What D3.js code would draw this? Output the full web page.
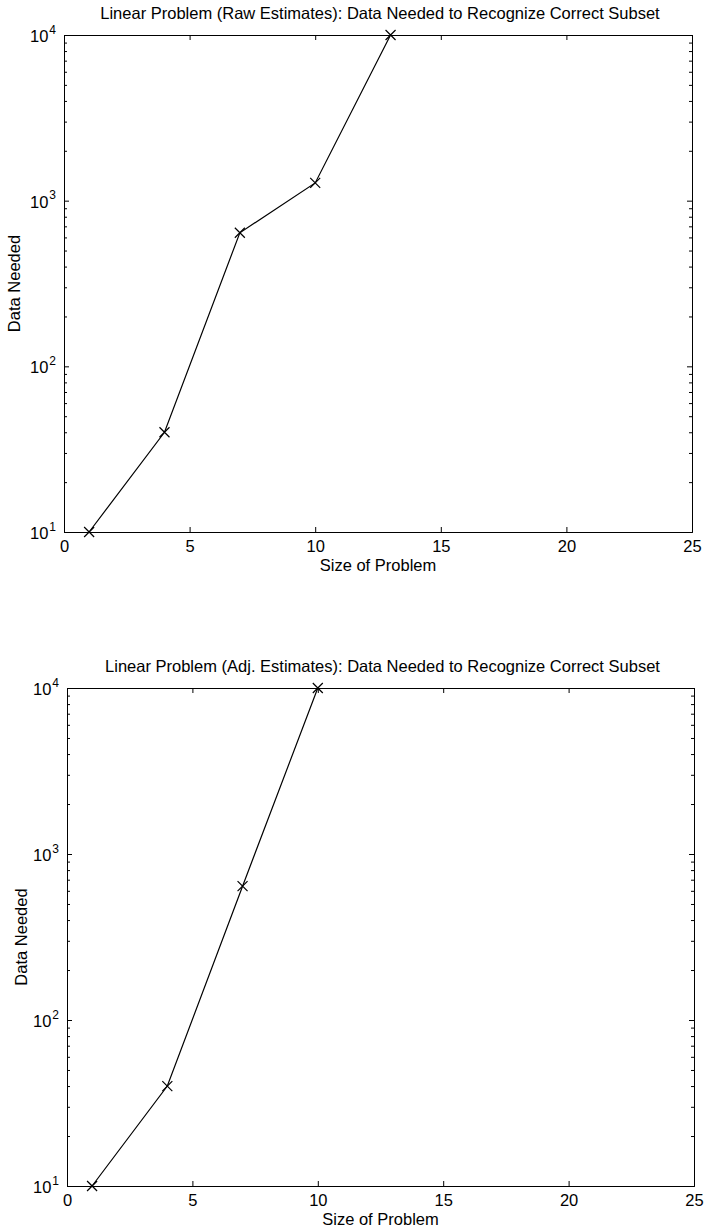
<!DOCTYPE html>
<html>
<head>
<meta charset="utf-8">
<script src="https://cdn.jsdelivr.net/npm/d3@7"></script>
<style>
  html, body { margin: 0; padding: 0; background: #fff; }
  svg text { font-family: "Liberation Sans", Arial, Helvetica, sans-serif; fill: #000; }
</style>
</head>
<body>
<svg id="fig" width="704" height="1230"></svg>
<script>
// Problem size vs. number of data points needed (log scale)
const sizesRaw = [1, 4, 7, 10, 13];
const neededRaw = [10, 40, 640, 1280, 10000];
const sizesAdj = [1, 4, 7, 10];
const neededAdj = [10, 40, 640, 10000];

const titles = [
  "Linear Problem (Raw Estimates): Data Needed to Recognize Correct Subset",
  "Linear Problem (Adj. Estimates): Data Needed to Recognize Correct Subset"
];
const xTicks = [0, 5, 10, 15, 20, 25];
const yMajor = [10, 100, 1000, 10000];
const xLabel = "Size of Problem";
const yLabel = "Data Needed";

const FS = 16.5;
const svg = d3.select("#fig");

// Minor ticks 2..9 in each decade
const yAll = [];
yMajor.forEach((m, i) => {
  yAll.push(m);
  if (i < yMajor.length - 1) for (let k = 2; k <= 9; k++) yAll.push(m * k);
});

function panel(box, title, xs, ys) {
  const x = d3.scaleLinear().domain([0, 25]).range([box.left, box.right]);
  const y = d3.scaleLog().domain([10, 10000]).range([box.bottom, box.top]);
  const g = svg.append("g");

  // Bottom axis with labels, ticks pointing inward
  const gx = g.append("g").attr("transform", `translate(0,${box.bottom})`)
    .call(d3.axisBottom(x).tickValues(xTicks).tickSize(-5).tickPadding(8).tickFormat(d3.format("d")));
  // Top axis mirrored, no labels
  const gxt = g.append("g").attr("transform", `translate(0,${box.top})`)
    .call(d3.axisTop(x).tickValues(xTicks).tickSize(-5).tickFormat(""));

  const isMajor = d => yMajor.includes(d);
  const gy = g.append("g").attr("transform", `translate(${box.left},0)`)
    .call(d3.axisLeft(y).tickValues(yAll).tickSize(-5).tickPadding(8).tickFormat(() => ""));
  const gyr = g.append("g").attr("transform", `translate(${box.right},0)`)
    .call(d3.axisRight(y).tickValues(yAll).tickSize(-5).tickFormat(""));

  [gy, gyr].forEach(a => {
    a.selectAll(".tick line").attr("x2", function(d) {
      const v = +d3.select(this).attr("x2");
      return isMajor(d) ? v : v * 0.6;
    });
  });

  // Power-of-ten labels with superscript exponent
  gy.selectAll(".tick").filter(d => isMajor(d)).select("text")
    .each(function(d) {
      const t = d3.select(this);
      t.text(null).attr("dy", "0.4em");
      t.append("tspan").text("10");
      t.append("tspan").attr("font-size", 12).attr("dy", "-0.7em").attr("dx", 1)
        .text(Math.round(Math.log10(d)));
    });

  [gx, gxt, gy, gyr].forEach(a => {
    a.select(".domain").attr("stroke", "#000").attr("stroke-width", 1);
    a.selectAll(".tick line").attr("stroke", "#000").attr("stroke-width", 1);
    a.selectAll("text").attr("font-size", FS).attr("fill", "#000")
      .style("font-family", "'Liberation Sans', Arial, sans-serif");
  });
  gy.selectAll("tspan:nth-child(2)").attr("font-size", 12);
  gx.selectAll("text").attr("dy", "0.71em");

  // Data line with x markers
  const pts = xs.map((v, i) => [x(v), y(ys[i])]);
  g.append("path").attr("d", d3.line()(pts))
    .attr("fill", "none").attr("stroke", "#000").attr("stroke-width", 1.2);
  const s = 5;
  g.selectAll(".mk").data(pts).join("path").attr("class", "mk")
    .attr("d", p => `M${p[0]-s},${p[1]-s}L${p[0]+s},${p[1]+s}M${p[0]-s},${p[1]+s}L${p[0]+s},${p[1]-s}`)
    .attr("stroke", "#000").attr("stroke-width", 1.2).attr("fill", "none");

  g.append("text").attr("x", (box.left + box.right) / 2 + 2).attr("y", box.top - 16)
    .attr("text-anchor", "middle").attr("font-size", FS).text(title);
  g.append("text").attr("x", (box.left + box.right) / 2).attr("y", box.bottom + 39)
    .attr("text-anchor", "middle").attr("font-size", FS).text(xLabel);
  g.append("text").attr("transform", `translate(${box.ylab},${(box.top + box.bottom) / 2}) rotate(-90)`)
    .attr("text-anchor", "middle").attr("font-size", FS).text(yLabel);
}

panel({ left: 64, right: 692, top: 35, bottom: 532, ylab: 20 }, titles[0], sizesRaw, neededRaw);
panel({ left: 67, right: 694, top: 688, bottom: 1186, ylab: 27 }, titles[1], sizesAdj, neededAdj);
</script>
</body>
</html>
